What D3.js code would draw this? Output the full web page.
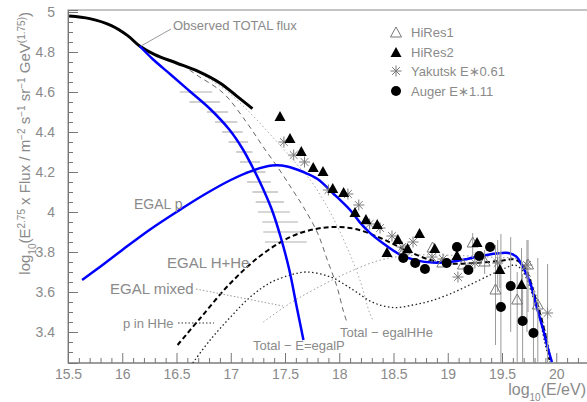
<!DOCTYPE html>
<html>
<head>
<meta charset="utf-8">
<script src="https://cdn.jsdelivr.net/npm/d3@7"></script>
<style>
  html, body { margin: 0; padding: 0; background: #fff; }
  svg { display: block; }
  text { font-family: "Liberation Sans", Arial, sans-serif; fill: #8a8a8a; }
</style>
</head>
<body>
<svg id="chart" width="587" height="402"></svg>
<script>
// ---- axis ticks ----
const xMajorTicks = [15.5, 16, 16.5, 17, 17.5, 18, 18.5, 19, 19.5, 20];
const yMajorTicks = [3.4, 3.6, 3.8, 4, 4.2, 4.4, 4.6, 4.8, 5];

// ---- model curves: log10(E/eV) vs log10(E^2.75 x Flux) ----
const observedTotalE = [15.51, 15.7, 15.9, 16.05, 16.16, 16.3, 16.5, 16.7, 16.9, 17.05, 17.2];
const observedTotalF = [4.98, 4.967, 4.932, 4.882, 4.83, 4.787, 4.745, 4.703, 4.645, 4.582, 4.517];

const totalMinusEgalPE = [16.16, 16.28, 16.44, 16.62, 16.81, 16.99, 17.11, 17.2, 17.29, 17.38, 17.46, 17.54, 17.61, 17.67];
const totalMinusEgalPF = [4.83, 4.765, 4.69, 4.605, 4.515, 4.41, 4.315, 4.225, 4.125, 4.01, 3.875, 3.71, 3.52, 3.36];

const egalPE = [15.63, 15.8, 16.0, 16.25, 16.5, 16.75, 17.0, 17.2, 17.38, 17.52, 17.67, 17.8, 17.94, 18.1, 18.19, 18.28, 18.4, 18.56, 18.72, 18.86, 19.02, 19.18, 19.3, 19.45, 19.56, 19.63, 19.69, 19.76, 19.82, 19.88, 19.92, 19.96];
const egalPF = [3.66, 3.728, 3.81, 3.91, 4.0, 4.085, 4.16, 4.207, 4.232, 4.228, 4.2, 4.165, 4.095, 4.01, 3.948, 3.897, 3.845, 3.787, 3.757, 3.747, 3.75, 3.765, 3.78, 3.793, 3.795, 3.778, 3.728, 3.645, 3.525, 3.41, 3.325, 3.25];

const egalHHeE = [16.51, 16.72, 16.99, 17.27, 17.55, 17.78, 17.96, 18.15, 18.38, 18.61, 18.84, 19.02, 19.25, 19.48, 19.62, 19.71, 19.8, 19.9, 19.94];
const egalHHeF = [3.335, 3.47, 3.64, 3.78, 3.875, 3.915, 3.925, 3.915, 3.87, 3.81, 3.76, 3.742, 3.745, 3.755, 3.762, 3.72, 3.585, 3.385, 3.26];

const pInHHeE = [16.65, 16.81, 16.99, 17.18, 17.36, 17.55, 17.7, 17.92, 18.13, 18.31, 18.5, 18.68, 18.84, 19.02, 19.2, 19.39, 19.53, 19.62, 19.69, 19.78, 19.85, 19.9, 19.94];
const pInHHeF = [3.245, 3.36, 3.47, 3.575, 3.645, 3.685, 3.7, 3.675, 3.61, 3.548, 3.522, 3.535, 3.555, 3.59, 3.635, 3.685, 3.72, 3.735, 3.705, 3.585, 3.46, 3.335, 3.25];

const egalMixedE = [17.3, 17.55, 17.76, 18.07, 18.38, 18.65, 18.93, 19.2, 19.48, 19.62, 19.71, 19.8, 19.9, 19.96];
const egalMixedF = [3.45, 3.545, 3.61, 3.695, 3.76, 3.783, 3.785, 3.78, 3.772, 3.768, 3.735, 3.61, 3.41, 3.25];

const totalMinusHHeE = [16.62, 16.7, 16.93, 17.15, 17.3, 17.45, 17.57, 17.67, 17.8, 17.89, 17.98, 18.035, 18.07];
const totalMinusHHeF = [4.71, 4.68, 4.595, 4.445, 4.325, 4.21, 4.11, 4.025, 3.895, 3.76, 3.625, 3.51, 3.45];

const totalMinusMixedE = [16.67, 16.95, 17.18, 17.41, 17.64, 17.76, 17.92, 18.07, 18.19, 18.28, 18.31];
const totalMinusMixedF = [4.71, 4.61, 4.495, 4.36, 4.22, 4.14, 3.995, 3.825, 3.66, 3.495, 3.46];

// ---- knee-region band: horizontal ranges in log10(E) at each flux level ----
const bandF  = [4.6, 4.55, 4.5, 4.45, 4.4, 4.35, 4.3, 4.25, 4.2, 4.15, 4.1, 4.05, 4.0, 3.95, 3.9, 3.85];
const bandLo = [16.53, 16.62, 16.78, 16.855, 16.92, 16.98, 17.05, 17.085, 17.13, 17.15, 17.2, 17.23, 17.25, 17.29, 17.3, 17.315];
const bandHi = [16.83, 16.9, 16.975, 17.06, 17.11, 17.16, 17.2, 17.27, 17.32, 17.37, 17.435, 17.49, 17.545, 17.62, 17.66, 17.7];

// ---- measurements ----
const hires1E  = [18.6, 18.86, 18.95, 19.14, 19.23, 19.34, 19.44, 19.64, 19.74, 19.83];
const hires1F  = [3.81, 3.82, 3.745, 3.735, 3.845, 3.75, 3.61, 3.56, 3.735, 3.535];
const hires1Lo = [null, null, null, null, 3.77, 3.69, 3.335, 3.2, 3.5, 3.2];
const hires1Hi = [null, null, null, null, 3.895, 3.81, 3.835, 3.7, 3.86, 3.77];

const hires2E  = [17.454, 17.546, 17.65, 17.76, 17.85, 17.94, 18.04, 18.145, 18.246, 18.35, 18.44, 18.54, 18.63, 18.74, 18.88, 19.085, 19.27, 19.48, 19.68];
const hires2F  = [4.475, 4.365, 4.3, 4.22, 4.2, 4.115, 4.095, 3.995, 3.96, 3.935, 3.795, 3.86, 3.815, 3.89, 3.815, 3.78, 3.845, 3.71, 3.635];
const hires2Lo = [null, null, null, null, null, null, null, null, null, null, null, null, null, null, null, null, null, 3.62, 3.45];
const hires2Hi = [null, null, null, null, null, null, null, null, null, null, null, null, null, null, null, null, null, 3.8, 3.82];

const yakutskE  = [17.49, 17.58, 17.68, 17.9, 18.08, 18.18, 18.28, 18.376, 18.486, 18.58, 18.68, 18.855, 18.956, 19.094, 19.187, 19.25, 19.46, 19.73, 19.92];
const yakutskF  = [4.35, 4.285, 4.25, 4.11, 4.09, 4.035, 3.94, 3.92, 3.88, 3.825, 3.85, 3.775, 3.765, 3.675, 3.72, 3.745, 3.745, 3.735, 3.495];
const yakutskLo = [null, null, null, null, null, null, null, null, null, null, null, null, null, null, null, null, 3.6, 3.4, 3.2];
const yakutskHi = [null, null, null, null, null, null, null, null, null, null, null, null, null, null, null, null, 3.86, 3.86, 3.74];

const augerE  = [18.59, 18.7, 18.79, 18.99, 19.085, 19.19, 19.29, 19.39, 19.49, 19.58, 19.69, 19.79];
const augerF  = [3.77, 3.745, 3.715, 3.745, 3.825, 3.71, 3.78, 3.825, 3.525, 3.63, 3.455, 3.395];
const augerLo = [null, null, null, null, null, null, null, null, 3.2, 3.4, 3.2, 3.2];
const augerHi = [null, null, null, null, null, null, null, null, 3.89, 3.875, 3.69, 3.61];

const legendLabels = ["HiRes1", "HiRes2", "Yakutsk E\u22170.61", "Auger E\u22171.11"];

// ---- layout ----
const svg = d3.select("#chart");
const frame = { left: 68, top: 10, bottom: 363 };
const x = d3.scaleLinear().domain([15.5, 20.5]).range([68, 610.5]);
const y = d3.scaleLinear().domain([3.245, 5.01]).range([363, 10]);

svg.append("rect").attr("width", 587).attr("height", 402).attr("fill", "#fff");

svg.append("defs").append("clipPath").attr("id", "plotArea")
  .append("rect").attr("x", frame.left).attr("y", frame.top)
  .attr("width", 600).attr("height", frame.bottom - frame.top);

// frame box
svg.append("rect").attr("x", frame.left).attr("y", frame.top)
  .attr("width", 600).attr("height", frame.bottom - frame.top)
  .attr("fill", "none").attr("stroke", "#8a8a8a").attr("stroke-width", 1);

// ---- axes (ticks point into the frame) ----
const axisColor = "#777";
const xMinor = d3.range(156, 206).map(d => d / 10).filter(d => !xMajorTicks.some(m => Math.abs(m - d) < 1e-9));
const yMinor = d3.range(66, 101).map(d => d * 0.05).filter(d => !yMajorTicks.some(m => Math.abs(m - d) < 1e-9));

function styleAxis(g) {
  g.select(".domain").attr("stroke", axisColor);
  g.selectAll(".tick line").attr("stroke", axisColor);
  g.selectAll(".tick text").attr("fill", "#8a8a8a").style("font-size", "14px")
    .style("font-family", "'Liberation Sans', Arial, sans-serif");
}

const gx = svg.append("g").attr("transform", `translate(0,${frame.bottom})`)
  .call(d3.axisBottom(x).tickValues(xMajorTicks).tickSize(-10).tickPadding(6)
    .tickFormat(d => String(+d.toFixed(1))));
styleAxis(gx);
gx.select(".domain").attr("d", `M${frame.left},0H587`);
const gxm = svg.append("g").attr("transform", `translate(0,${frame.bottom})`)
  .call(d3.axisBottom(x).tickValues(xMinor).tickSize(-5).tickFormat(""));
styleAxis(gxm);
gxm.select(".domain").remove();

const gy = svg.append("g").attr("transform", `translate(${frame.left},0)`)
  .call(d3.axisLeft(y).tickValues(yMajorTicks).tickSize(-10).tickPadding(13)
    .tickFormat(d => String(+d.toFixed(1))));
styleAxis(gy);
const gym = svg.append("g").attr("transform", `translate(${frame.left},0)`)
  .call(d3.axisLeft(y).tickValues(yMinor).tickSize(-5).tickFormat(""));
styleAxis(gym);
gym.select(".domain").remove();

// axis titles
const yTitle = svg.append("text")
  .attr("transform", `translate(30,12) rotate(-90)`)
  .attr("text-anchor", "end").style("font-size", "15px");
[["log", 0], ["10", -1], ["(E", 0], ["2.75", 1], [" x Flux / m", 0], ["\u22122", 1], [" s", 0], ["\u22121", 1],
 [" sr", 0], ["\u22121", 1], [" GeV", 0], ["(1.75)", 1], [")", 0]].forEach(([t, s]) => {
  const ts = yTitle.append("tspan").text(t);
  if (s === 1) ts.attr("baseline-shift", "super").style("font-size", "10px");
  if (s === -1) ts.attr("baseline-shift", "sub").style("font-size", "10px");
});

const xTitle = svg.append("text").attr("x", 586).attr("y", 395)
  .attr("text-anchor", "end").style("font-size", "16px");
xTitle.append("tspan").text("log");
xTitle.append("tspan").text("10").attr("baseline-shift", "sub").style("font-size", "10px");
xTitle.append("tspan").text("(E/eV)");

// ---- plot contents ----
const plot = svg.append("g").attr("clip-path", "url(#plotArea)");

// knee band
plot.append("g").selectAll("line").data(bandF).join("line")
  .attr("x1", (d, i) => x(bandLo[i])).attr("x2", (d, i) => x(bandHi[i]))
  .attr("y1", d => y(d)).attr("y2", d => y(d))
  .attr("stroke", "#b0b0b0").attr("stroke-width", 1.2);

function curve(es, fs, stroke, width, dash) {
  const pts = es.map((e, i) => [x(e), y(fs[i])]);
  plot.append("path").attr("d", d3.line().curve(d3.curveCatmullRom.alpha(0.5))(pts))
    .attr("fill", "none").attr("stroke", stroke).attr("stroke-width", width)
    .attr("stroke-dasharray", dash || null).attr("stroke-linecap", "butt");
}

curve(totalMinusMixedE, totalMinusMixedF, "#aaaaaa", 1, "1.5,2.5");
curve(totalMinusHHeE, totalMinusHHeF, "#666666", 1, "5,4");
curve(egalMixedE, egalMixedF, "#999999", 1, "1.5,2.5");
curve(pInHHeE, pInHHeF, "#222222", 1.3, "1.5,2.5");
curve(egalHHeE, egalHHeF, "#000000", 2, "5,3");
curve(observedTotalE, observedTotalF, "#000000", 3);
curve(totalMinusEgalPE, totalMinusEgalPF, "#0000ff", 2.5);
curve(egalPE, egalPF, "#0000ff", 2.5);

// error bars
function errorBars(es, lo, hi) {
  const idx = es.map((e, i) => i).filter(i => lo[i] != null);
  plot.append("g").selectAll("line").data(idx).join("line")
    .attr("x1", i => x(es[i])).attr("x2", i => x(es[i]))
    .attr("y1", i => y(lo[i])).attr("y2", i => y(hi[i]))
    .attr("stroke", "#9a9a9a").attr("stroke-width", 1);
}
errorBars(hires1E, hires1Lo, hires1Hi);
errorBars(hires2E, hires2Lo, hires2Hi);
errorBars(yakutskE, yakutskLo, yakutskHi);
errorBars(augerE, augerLo, augerHi);

// marker shapes
const triPath = "M0,-6L5.5,4L-5.5,4Z";
function drawTriangleOpen(g, cx, cy) {
  g.append("path").attr("d", triPath).attr("transform", `translate(${cx},${cy})`)
    .attr("fill", "none").attr("stroke", "#777").attr("stroke-width", 1);
}
function drawTriangleFilled(g, cx, cy) {
  g.append("path").attr("d", triPath).attr("transform", `translate(${cx},${cy})`)
    .attr("fill", "#000");
}
function drawStar(g, cx, cy) {
  const r = 5.5, gg = g.append("g").attr("transform", `translate(${cx},${cy})`);
  [0, 45, 90, 135].forEach(a => {
    const t = a * Math.PI / 180;
    gg.append("line").attr("x1", -r * Math.cos(t)).attr("y1", -r * Math.sin(t))
      .attr("x2", r * Math.cos(t)).attr("y2", r * Math.sin(t))
      .attr("stroke", "#7a7a7a").attr("stroke-width", 1);
  });
}
function drawDot(g, cx, cy) {
  g.append("circle").attr("cx", cx).attr("cy", cy).attr("r", 5).attr("fill", "#000");
}

const pts = plot.append("g");
yakutskE.forEach((e, i) => drawStar(pts, x(e), y(yakutskF[i])));
hires1E.forEach((e, i) => drawTriangleOpen(pts, x(e), y(hires1F[i])));
augerE.forEach((e, i) => drawDot(pts, x(e), y(augerF[i])));
hires2E.forEach((e, i) => drawTriangleFilled(pts, x(e), y(hires2F[i])));

// ---- annotations ----
const ann = svg.append("g").style("font-size", "13px");
ann.append("line").attr("x1", 141).attr("y1", 46).attr("x2", 171).attr("y2", 29)
  .attr("stroke", "#999").attr("stroke-width", 1);
ann.append("text").attr("x", 173).attr("y", 30).text("Observed TOTAL flux");
ann.append("text").attr("x", 134).attr("y", 209).style("font-size", "14px").text("EGAL p");
ann.append("text").attr("x", 167).attr("y", 268).style("font-size", "15px").text("EGAL H+He");
ann.append("text").attr("x", 110).attr("y", 294).style("font-size", "15px").text("EGAL mixed");
ann.append("line").attr("x1", 196).attr("y1", 289).attr("x2", 283).attr("y2", 306)
  .attr("stroke", "#999").attr("stroke-width", 1).attr("stroke-dasharray", "1.5,2");
ann.append("text").attr("x", 123).attr("y", 328).text("p in HHe");
ann.append("line").attr("x1", 178).attr("y1", 323).attr("x2", 214).attr("y2", 323)
  .attr("stroke", "#333").attr("stroke-width", 1).attr("stroke-dasharray", "1.5,2");
ann.append("text").attr("x", 253).attr("y", 350).text("Total \u2212 E=egalP");
ann.append("text").attr("x", 340).attr("y", 337).text("Total \u2212 egalHHe");

// ---- legend ----
const lg = svg.append("g");
const rowY = [32, 52, 71, 91];
drawTriangleOpen(lg, 396, rowY[0] + 1);
drawTriangleFilled(lg, 396, rowY[1] + 1);
drawStar(lg, 396, rowY[2]);
drawDot(lg, 396, rowY[3]);
lg.selectAll("text").data(legendLabels).join("text")
  .attr("x", 411).attr("y", (d, i) => rowY[i] + 5).style("font-size", "13px").text(d => d);
</script>
</body>
</html>
